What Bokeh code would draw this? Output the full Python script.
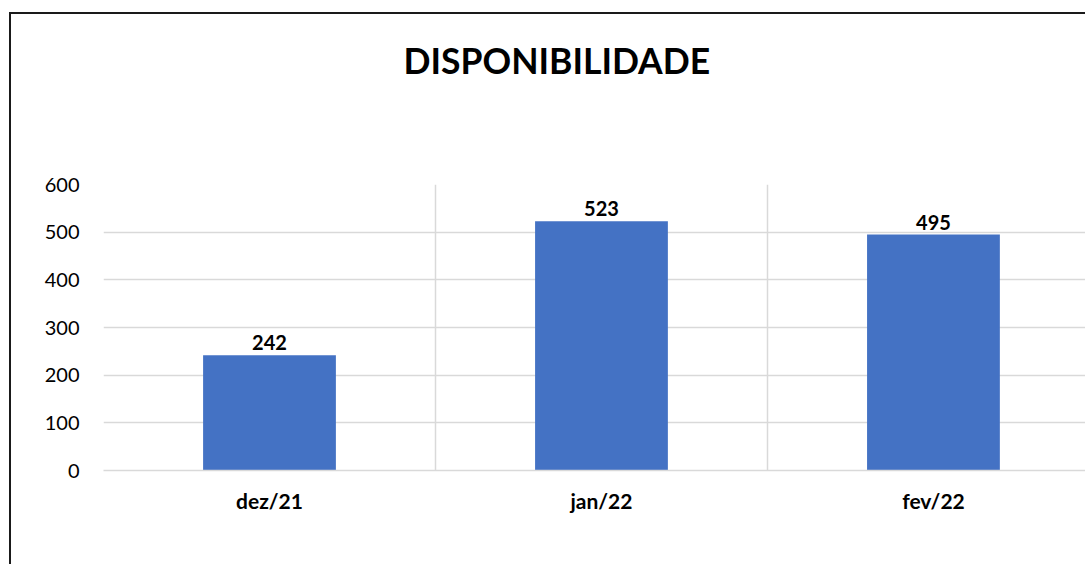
from bokeh.plotting import figure
from bokeh.models import ColumnDataSource, Range1d, FixedTicker, LabelSet, Title
from bokeh.core.properties import value
from bokeh.embed import file_html
from bokeh.resources import INLINE

categories = ["dez/21", "jan/22", "fev/22"]
values = [242, 523, 495]
y_ticks = [0, 100, 200, 300, 400, 500, 600]
title_text = "DISPONIBILIDADE"

xpos = [i + 0.5 for i in range(len(categories))]
src = ColumnDataSource(dict(x=xpos, top=values, lab=[str(v) for v in values], cat=categories))

FONT = "Lato"
p = figure(width=1076, height=552, output_backend="svg", toolbar_location=None,
           x_range=Range1d(0, 2.964), y_range=Range1d(0, 600),
           min_border_left=92, min_border_right=0, min_border_top=170, min_border_bottom=96,
           outline_line_color=None, background_fill_color="white", border_fill_color="white",
           styles={"border-top": "2px solid #1a1a1a", "border-left": "2px solid #1a1a1a",
                   "margin-left": "9px", "margin-top": "12px"})

p.vbar(x="x", top="top", width=0.4, source=src, fill_color="#4472C4", line_color=None)

labels = LabelSet(x="x", y="top", text="lab", source=src, text_align="center", text_baseline="bottom",
                  y_offset=5, text_font=value(FONT), text_font_style="bold", text_font_size="20px",
                  text_color="#000000")
p.add_layout(labels)

# spacer between title and frame
p.add_layout(Title(text=" ", text_font_size="10px", standoff=90), "above")
p.add_layout(Title(text=title_text, align="left", offset=300, standoff=0,
                   text_font=FONT, text_font_style="bold", text_font_size="35.5px",
                   text_color="#000000"), "above")

p.xaxis.ticker = FixedTicker(ticks=xpos)
p.xaxis.major_label_overrides = {x: c for x, c in zip(xpos, categories)}
p.xaxis.major_tick_line_color = None
p.xaxis.minor_tick_line_color = None
p.xaxis.axis_line_color = "#D9D9D9"
p.xaxis.axis_line_width = 1.5
p.xaxis.major_label_text_font = FONT
p.xaxis.major_label_text_font_style = "bold"
p.xaxis.major_label_text_font_size = "21px"
p.xaxis.major_label_text_color = "#000000"
p.xaxis.major_label_standoff = 11

p.yaxis.ticker = FixedTicker(ticks=y_ticks)
p.yaxis.major_tick_line_color = None
p.yaxis.minor_tick_line_color = None
p.yaxis.axis_line_color = None
p.yaxis.major_label_text_font = FONT
p.yaxis.major_label_text_font_size = "20px"
p.yaxis.major_label_text_color = "#000000"
p.yaxis.major_label_standoff = 18

p.xgrid.ticker = FixedTicker(ticks=[0, 1, 2, 3])
p.xgrid.grid_line_color = "#D9D9D9"
p.xgrid.grid_line_width = 1.5
p.ygrid.grid_line_color = "#D9D9D9"
p.ygrid.grid_line_width = 1.5

open("out.html", "w").write(file_html(p, INLINE))
